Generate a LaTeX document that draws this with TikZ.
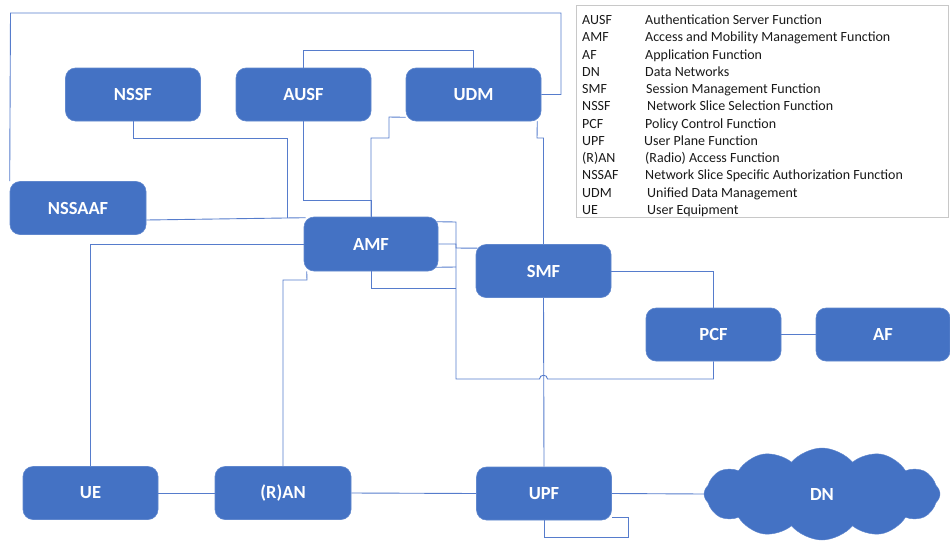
\documentclass[tikz,border=0pt]{standalone}
\usepackage{fontspec}
\setmainfont{Carlito}
\usetikzlibrary{calc,backgrounds,shapes.symbols}
\definecolor{boxblue}{HTML}{4472C4}
\definecolor{linkblue}{RGB}{86,124,204}
\definecolor{legframe}{RGB}{200,200,200}
\tikzset{
  nf/.style={rectangle, rounded corners=10pt, fill=boxblue, draw=boxblue!85!white, line width=0.6pt,
    text=white, font=\fontsize{18.5}{20}\selectfont\bfseries,
    minimum width=135pt, minimum height=53pt, inner sep=0pt},
  link/.style={draw=linkblue, line width=0.9pt},
  legtxt/.style={anchor=base west, inner sep=0pt, font=\fontsize{14}{16}\selectfont, text=black!90}
}
\begin{document}
\begin{tikzpicture}[x=1pt,y=-1pt]
\useasboundingbox (0,0) rectangle (950,541);
% nodes
\node[nf] (NSSF) at (133,94.5) {NSSF};
\node[nf] (AUSF) at (303.5,94.5) {AUSF};
\node[nf] (UDM) at (473.5,94.5) {UDM};
\node[nf, minimum width=136pt] (NSSAAF) at (78,208) {NSSAAF};
\node[nf, minimum width=134pt, minimum height=54pt] (AMF) at (371,244) {AMF};
\node[nf] (SMF) at (543.5,271) {SMF};
\node[nf] (PCF) at (713.5,334.5) {PCF};
\node[nf, minimum width=134pt] (AF) at (883,334.5) {AF};
\node[nf] (UE) at (90.5,493) {UE};
\node[nf, minimum width=136pt] (RAN) at (283,493) {(R)AN};
\node[nf] (UPF) at (544,493.5) {UPF};
\node[cloud, cloud puffs=12, cloud puff arc=100, aspect=2.5, fill=boxblue, draw=boxblue!85!white,
      text=white, font=\fontsize{18.5}{20}\selectfont\bfseries,
      minimum width=236pt, minimum height=92pt, inner sep=0pt] (DN) at (822,494) {DN};
% legend
\node[draw=legframe, line width=0.8pt, minimum width=372pt, minimum height=212pt, inner sep=0pt] (LEG) at (762,111) {};
\foreach \ab/\desc/\dx [count=\i] in {
  AUSF/Authentication Server Function/645,
  AMF/Access and Mobility Management Function/645,
  AF/Application Function/645,
  DN/Data Networks/645,
  SMF/Session Management Function/646,
  NSSF/Network Slice Selection Function/647,
  PCF/Policy Control Function/645,
  UPF/User Plane Function/644,
  (R)AN/(Radio) Access Function/645,
  NSSAF/Network Slice Specific Authorization Function/645,
  UDM/Unified Data Management/647,
  UE/User Equipment/647}{
  \node[legtxt] (LA\i) at (582,{24.5+17.25*(\i-1)}) {\ab};
  \node[legtxt] (LD\i) at (\dx,{24.5+17.25*(\i-1)}) {\desc};
}
% connectors
\begin{scope}[on background layer]
\draw[link] (UDM.east) -- (561,94.5) -- (561,13) -- (10.5,13) -- (NSSAAF.north west);
\draw[link] (AUSF.north) -- (303.5,50) -| (UDM.north);
\draw[link] (NSSF.south) -- (133,138) -| (287,218);
\draw[link] (AUSF.south) -- (303.5,200) -| (AMF.north);
\draw[link] ($(UDM.south west)+(0,-4)$) -- (389,117) -- (389,138) -- (371,138) -- (AMF.north);
\draw[link] ($(UDM.south east)+(-4,0)$) -- (537,138) -- (543.5,138) -- (SMF.north);
\draw[link] ($(NSSAAF.east)+(0,12)$) -- ($(AMF.north west)+(2,1)$);
\draw[link] ($(AMF.north east)+(-2,5)$) -- (456,222) -- (456,379) -- (539.5,379)
   .. controls (539.5,374) and (547.5,374) .. (547.5,379) -- (713.5,379) -- (PCF.south);
\draw[link] (AMF.east) -- (456,244) -- (456,248) -- ($(SMF.north west)+(2,4)$);
\draw[link] ($(AMF.south east)+(-4,-4)$) -- (456,267);
\draw[link] (AMF.south) -- (371,288) -- (456,288);
\draw[link] (AMF.west) -| (UE.north);
\draw[link] ($(AMF.south west)+(3,0)$) -- (307,280) -| (RAN.north);
\draw[link] (SMF.east) -| (PCF.north);
\draw[link] (PCF.east) -- (AF.west);
\draw[link] (SMF.south) -- (UPF.north);
\draw[link] (UE.east) -- (RAN.west);
\draw[link] (RAN.east) -- (UPF.west);
\draw[link] (UPF.east) -- (DN.west);
\draw[link] (UPF.south) -- (544,537) -- (628,537) -- (628,517) -- ($(UPF.east)+(0,23.5)$);
\end{scope}
\end{tikzpicture}
\end{document}
